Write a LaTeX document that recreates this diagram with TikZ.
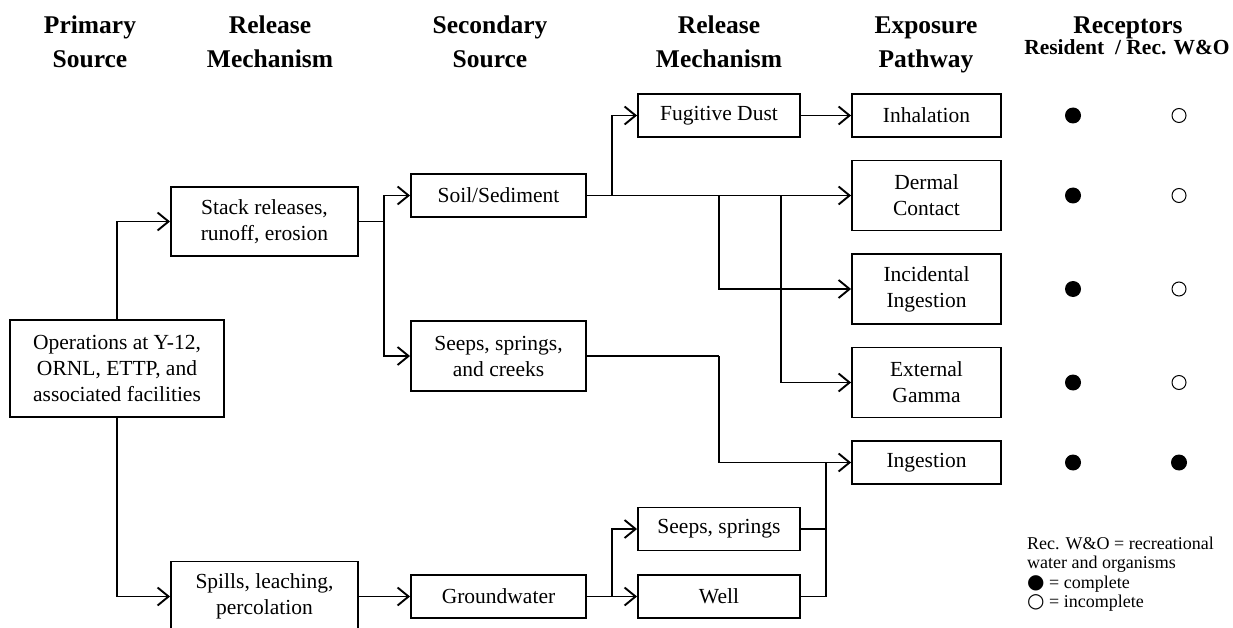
\documentclass[tikz,border=0pt]{standalone}
\usepackage{fontspec}
\setmainfont{Liberation Serif}
\newfontfamily\symfont{DejaVu Sans}
\usetikzlibrary{arrows.meta}
\begin{document}
\begin{tikzpicture}[x=1pt,y=-1pt,
  box/.style={draw, line width=1.9pt, inner sep=0pt, align=center, font=\fontsize{21.5}{26}\selectfont},
  arr/.style={-{Straight Barb[length=11pt,width=18pt]}, line width=1.9pt},
  ln/.style={line width=1.9pt},
  hdr/.style={font=\bfseries\fontsize{25.5}{30}\selectfont, anchor=base, inner sep=0pt},
  fdot/.style={circle, fill=black, minimum size=16pt, inner sep=0pt},
  odot/.style={circle, draw=black, line width=1pt, minimum size=14pt, inner sep=0pt}]
\useasboundingbox (0,0) rectangle (1233,628);

% headers
\node[hdr] (h1a) at (90,34) {Primary};
\node[hdr] (h1b) at (90,68) {Source};
\node[hdr] (h2a) at (270,34) {Release};
\node[hdr] (h2b) at (270,68) {Mechanism};
\node[hdr] (h3a) at (490,34) {Secondary};
\node[hdr] (h3b) at (490,68) {Source};
\node[hdr] (h4a) at (719,34) {Release};
\node[hdr] (h4b) at (719,68) {Mechanism};
\node[hdr] (h5a) at (926,34) {Exposure};
\node[hdr] (h5b) at (926,68) {Pathway};
\node[hdr] (h6a) at (1128,34) {Receptors};
\node[hdr, font=\bfseries\fontsize{21.5}{24}\selectfont] (h6b) at (1127,55) {Resident \ / Rec. W\&O};

% boxes
\node[box, minimum width=214pt, minimum height=97pt] (ops) at (117,368.5) {Operations at Y-12,\\ORNL, ETTP, and\\associated facilities};
\node[box, minimum width=187pt, minimum height=69pt] (stack) at (264.5,221.5) {Stack releases,\\runoff, erosion};
\node[box, minimum width=187pt, minimum height=70pt] (spills) at (264.5,596.5) {Spills, leaching,\\percolation};
\node[box, minimum width=175pt, minimum height=43pt] (soil) at (498.5,195.5) {Soil/Sediment};
\node[box, minimum width=175pt, minimum height=70pt] (seepsc) at (498.5,356) {Seeps, springs,\\and creeks};
\node[box, minimum width=175pt, minimum height=43pt] (ground) at (498.5,596.5) {Groundwater};
\node[box, minimum width=162pt, minimum height=43pt] (fug) at (719,115.5) {Fugitive Dust};
\node[box, minimum width=162pt, minimum height=43pt] (seepss) at (719,529) {Seeps, springs};
\node[box, minimum width=162pt, minimum height=43pt] (well) at (719,596.5) {Well};
\node[box, minimum width=149pt, minimum height=43pt] (inhal) at (926.5,115.5) {Inhalation};
\node[box, minimum width=149pt, minimum height=70pt] (dermal) at (926.5,195.5) {Dermal\\Contact};
\node[box, minimum width=149pt, minimum height=70pt] (incid) at (926.5,289) {Incidental\\Ingestion};
\node[box, minimum width=149pt, minimum height=70pt] (extern) at (926.5,382.5) {External\\Gamma};
\node[box, minimum width=149pt, minimum height=43pt] (ingest) at (926.5,462.5) {Ingestion};

% junctions
\coordinate (j1) at (384,221.5);
\coordinate (j2) at (612,195.5);
\coordinate (j3) at (719,195.5);
\coordinate (j4) at (781,195.5);
\coordinate (j5) at (719,356);
\coordinate (j6) at (612,596.5);
\coordinate (j7) at (826,596.5);

% connectors
\draw[arr] (ops.north) |- (stack.west);
\draw[arr] (ops.south) |- (spills.west);
\draw[ln] (stack.east) -- (j1);
\draw[arr] (j1) |- (soil.west);
\draw[arr] (j1) |- (seepsc.west);
\draw[arr] (soil.east) -- (dermal.west);
\draw[arr] (j2) |- (fug.west);
\draw[arr] (j3) |- (incid.west);
\draw[arr] (j4) |- (extern.west);
\draw[arr] (fug.east) -- (inhal.west);
\draw[ln] (seepsc.east) -- (j5);
\draw[arr] (j5) |- (ingest.west);
\draw[arr] (spills.east) -- (ground.west);
\draw[ln] (ground.east) -- (j6);
\draw[arr] (j6) |- (seepss.west);
\draw[arr] (j6) -- (well.west);
\draw[ln] (seepss.east) -- (seepss.east -| j7);
\draw[ln] (well.east) -- (j7);
\draw[ln] (j7) -- (j7 |- ingest.west);

% receptor dots
\node[fdot] (r1a) at (1073,115.5) {};
\node[odot] (r1b) at (1179,115.5) {};
\node[fdot] (r2a) at (1073,195.5) {};
\node[odot] (r2b) at (1179,195.5) {};
\node[fdot] (r3a) at (1073,289) {};
\node[odot] (r3b) at (1179,289) {};
\node[fdot] (r4a) at (1073,382.5) {};
\node[odot] (r4b) at (1179,382.5) {};
\node[fdot] (r5a) at (1073,462.5) {};
\node[fdot] (r5b) at (1179,462.5) {};

% legend
\node[anchor=west, align=left, inner sep=0pt, font=\fontsize{18}{19.5}\selectfont] (legend) at (1027,574) {Rec. W\&O = recreational\\water and organisms\\{\symfont\fontsize{20}{19.5}\selectfont ●} = complete\\{\symfont\fontsize{20}{19.5}\selectfont ○} = incomplete};
\end{tikzpicture}
\end{document}
